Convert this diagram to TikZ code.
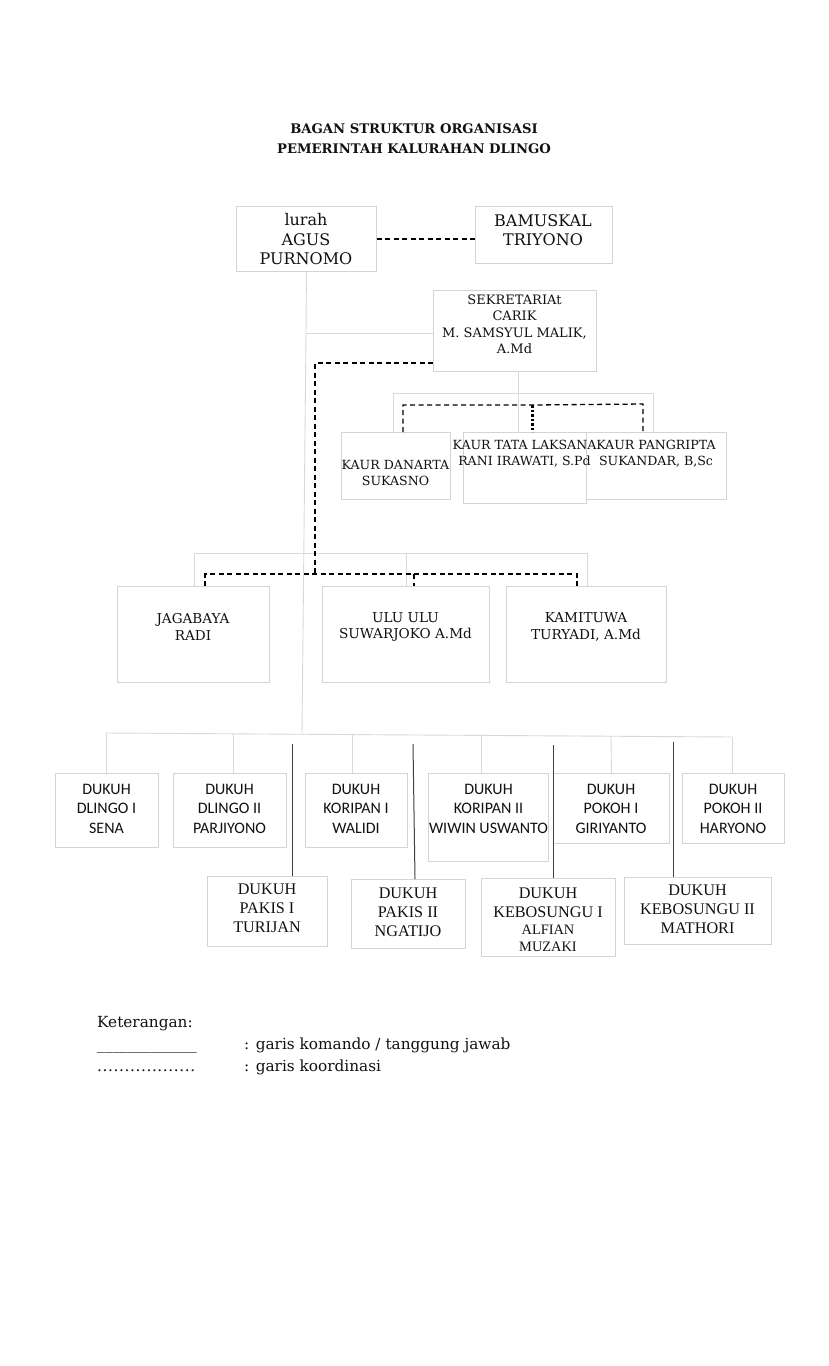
\documentclass[tikz,border=0pt]{standalone}
\usepackage{fontspec}
\setmainfont{DejaVu Serif}
\newfontfamily\carl{Carlito}
\newfontfamily\tms{Liberation Serif}
\definecolor{boxc}{HTML}{D4D4D4}
\definecolor{linec}{HTML}{D9D9D9}
\definecolor{darkc}{HTML}{404040}
\definecolor{ink}{HTML}{111111}
\newcommand\mybox[5]{\node[bx, anchor=north west, minimum width={(#4-#2)*1pt}, minimum height={(#5-#3)*1pt}] (#1) at (#2,#3) {};}
\begin{document}
\begin{tikzpicture}[x=1pt,y=-1pt,
  bx/.style={draw=boxc, line width=0.9pt, inner sep=0pt},
  txt/.style={align=center, inner sep=0pt, text=ink},
  bk/.style={txt, font=\fontsize{16}{19.5}\selectfont},
  sm/.style={txt, font=\fontsize{13}{16.5}\selectfont},
  jg/.style={txt, font=\fontsize{13.6}{16.5}\selectfont},
  ka/.style={txt, font=\fontsize{12.6}{16.5}\selectfont},
  cb/.style={txt, font=\carl\fontsize{16}{19.5}\selectfont},
  tm/.style={txt, font=\tms\fontsize{16.2}{18.8}\selectfont},
  tms/.style={txt, font=\tms\fontsize{14.4}{17}\selectfont},
  lg/.style={txt, anchor=base west, font=\fontsize{15.3}{18}\selectfont},
  ln/.style={draw=linec, line width=0.9pt},
  dsh/.style={draw=black, line width=1.3pt, dash pattern=on 5pt off 3.5pt},
  dotl/.style={draw=black, line width=3pt, dash pattern=on 2.5pt off 2pt},
  dk/.style={draw=darkc, line width=1pt}]
\useasboundingbox[fill=white] (0,0) rectangle (829,1366);

% title
\node[txt, font=\bfseries\fontsize{13.2}{15}\selectfont] (t1) at (414,129) {BAGAN STRUKTUR ORGANISASI};
\node[txt, font=\bfseries\fontsize{13.2}{15}\selectfont] (t2) at (414,149) {PEMERINTAH KALURAHAN DLINGO};

% boxes
\mybox{lurah}{236}{206}{376}{271}
\mybox{bam}{475}{206}{612}{263}
\mybox{sek}{433}{290}{596}{371}
\mybox{dan}{341}{432}{450}{499}
\mybox{tata}{463}{432}{586}{503}
\mybox{pang}{586}{432}{726}{499}
\mybox{jag}{117}{586}{269}{682}
\mybox{ulu}{322}{586}{489}{682}
\mybox{kam}{506}{586}{666}{682}
\mybox{d1}{55}{773}{158}{847}
\mybox{d2}{173}{773}{286}{847}
\mybox{d3}{305}{773}{407}{847}
\mybox{d4}{428}{773}{548}{861}
\mybox{d5}{553}{773}{669}{843}
\mybox{d6}{682}{773}{784}{843}
\mybox{p1}{207}{876}{327}{946}
\mybox{p2}{351}{879}{465}{948}
\mybox{k1}{481}{878}{615}{956}
\mybox{k2}{624}{877}{771}{944}

% texts
\node[bk] (lurahT) at (306,239.5) {lurah\\AGUS\\PURNOMO};
\node[bk] (bamT) at (543,230) {BAMUSKAL\\TRIYONO};
\node[sm] (sekT) at (514.5,324.5) {SEKRETARIAt\\CARIK\\M. SAMSYUL MALIK,\\A.Md};
\node[ka] (danT) at (395.5,473) {KAUR DANARTA\\SUKASNO};
\node[ka] (tataT) at (524.5,453.5) {KAUR TATA LAKSANA\\RANI IRAWATI, S.Pd};
\node[ka] (pangT) at (656,453.5) {KAUR PANGRIPTA\\SUKANDAR, B,Sc};
\node[jg] (jagT) at (193,627) {JAGABAYA\\RADI};
\node[jg] (uluT) at (405.5,627) {ULU ULU\\SUWARJOKO A.Md};
\node[jg] (kamT) at (586,627) {KAMITUWA\\TURYADI, A.Md};
\node[cb] (d1T) at (106.5,808.5) {DUKUH\\DLINGO I\\SENA};
\node[cb] (d2T) at (229.5,808.5) {DUKUH\\DLINGO II\\PARJIYONO};
\node[cb] (d3T) at (356,808.5) {DUKUH\\KORIPAN I\\WALIDI};
\node[cb] (d4T) at (488.5,808.5) {DUKUH\\KORIPAN II\\WIWIN USWANTO};
\node[cb] (d5T) at (611,808.5) {DUKUH\\POKOH I\\GIRIYANTO};
\node[cb] (d6T) at (733,808.5) {DUKUH\\POKOH II\\HARYONO};
\node[tm] (p1T) at (267,908.5) {DUKUH\\PAKIS I\\TURIJAN};
\node[tm] (p2T) at (408,912.5) {DUKUH\\PAKIS II\\NGATIJO};
\node[tm] (k1T) at (548,902.5) {DUKUH\\KEBOSUNGU I};
\node[tms] (k1U) at (548,938.5) {ALFIAN\\MUZAKI};
\node[tm] (k2T) at (697.5,909) {DUKUH\\KEBOSUNGU II\\MATHORI};

% light command lines
\coordinate (jL) at (306,333);
\coordinate (dbL) at (106,733);
\coordinate (dbR) at (732,737);
\coordinate (dbM) at (302,734);
\draw[ln] (lurah.south) -- (jL) -- (dbM);
\draw[ln] (jL) -- (sek.west |- jL);
\draw[ln] (sek.south -| 518,0) -- (tata.north -| 518,0);
\coordinate (kL) at (393,393);
\coordinate (kR) at (653,393);
\draw[ln] (kL) -- (kR);
\draw[ln] (kL) -- (dan.north -| kL);
\draw[ln] (kR) -- (pang.north -| kR);
\coordinate (jgL) at (194,553);
\coordinate (jgR) at (587,553);
\draw[ln] (jgL) -- (jgR);
\draw[ln] (jgL) -- (jag.north -| jgL);
\draw[ln] (ulu.north |- jgL) -- (ulu.north);
\draw[ln] (jgR) -- (kam.north -| jgR);
\draw[ln] (dbL) -- (dbR);
\draw[ln] (dbL) -- (d1.north -| dbL);
\draw[ln] (233,734) -- (d2.north -| 233,0);
\draw[ln] (352,734.5) -- (d3.north -| 352,0);
\draw[ln] (481,735.5) -- (d4.north -| 481,0);
\draw[ln] (611,736) -- (d5.north);
\draw[ln] (dbR) -- (d6.north -| dbR);

% dark lines to second row
\draw[dk] (292,744) -- (p1.north -| 292,0);
\draw[dk] (413,744) -- (p2.north -| 415,0);
\draw[dk] (553,745) -- (k1.north -| 553,0);
\draw[dk] (673,742) -- (k2.north -| 673,0);

% coordination lines
\draw[dsh] (lurah.east) -- (bam.west |- lurah.east);
\coordinate (c1) at (315,363);
\coordinate (c2) at (315,574);
\draw[dsh] (sek.west |- c1) -- (c1) -- (c2);
\coordinate (cjL) at (205,574);
\coordinate (cjR) at (577,574);
\draw[dsh] (jag.north -| cjL) -- (cjL) -- (cjR) -- (kam.north -| cjR);
\draw[dsh] (414,574) -- (ulu.north -| 414,0);
\coordinate (ckL) at (403,405);
\coordinate (ckR) at (643,404);
\draw[dsh] (dan.north -| ckL) -- (ckL) -- (532,405) -- (ckR) -- (pang.north -| ckR);
\draw[dotl] (532,405) -- (tata.north -| 532,0);

% legend
\node[lg] (ket) at (97,1027) {Keterangan:};
\node[lg] (lg1a) at (97,1049) {\makebox[98pt][s]{\_\hfil\_\hfil\_\hfil\_\hfil\_\hfil\_\hfil\_\hfil\_\hfil\_\hfil\_\hfil\_\hfil\_\hfil\_}};
\node[lg] (lg1b) at (244,1049) {: garis komando / tanggung jawab};
\node[lg] (lg2a) at (97,1071) {\makebox[98pt][s]{.\hfil.\hfil.\hfil.\hfil.\hfil.\hfil.\hfil.\hfil.\hfil.\hfil.\hfil.\hfil.\hfil.\hfil.\hfil.\hfil.\hfil.}};
\node[lg] (lg2b) at (244,1071) {: garis koordinasi};
\end{tikzpicture}
\end{document}
